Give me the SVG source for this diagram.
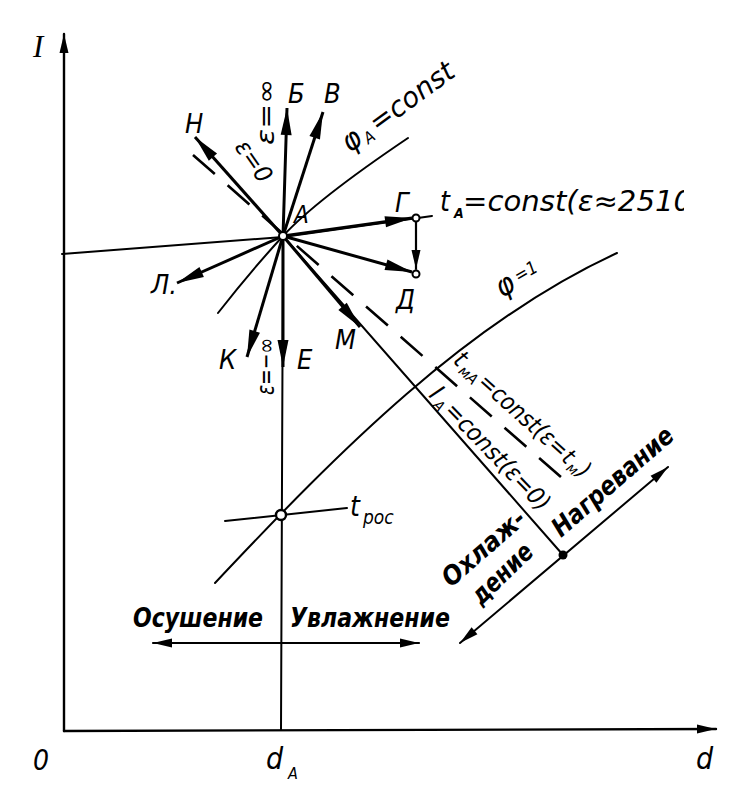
<svg xmlns="http://www.w3.org/2000/svg" width="756" height="788" viewBox="0 0 756 788">
<style>
.t{font-family:"DejaVu Sans Condensed","Liberation Sans Narrow","DejaVu Sans",sans-serif;font-style:italic;fill:#000}
.b{font-weight:bold}
.ln{fill:none;stroke:#000;stroke-width:2;stroke-linecap:round}
.ar{fill:none;stroke:#000;stroke-width:3;marker-end:url(#ah)}
</style>
<defs>
<marker id="ah" viewBox="-28 -6 30 12" refX="0" refY="0" markerWidth="30" markerHeight="12" markerUnits="userSpaceOnUse" orient="auto"><path d="M0,0 L-27,-5.5 L-27,5.5 z" fill="#000"/></marker>
<marker id="ahs" viewBox="-20 -5 22 10" refX="0" refY="0" markerWidth="22" markerHeight="10" markerUnits="userSpaceOnUse" orient="auto-start-reverse"><path d="M0,0 L-19,-4.5 L-19,4.5 z" fill="#000"/></marker>
<clipPath id="cut"><rect x="0" y="0" width="684" height="788"/></clipPath>
</defs>
<rect width="756" height="788" fill="#fff"/>

<g id="axes">
<path d="M64,731 L64,34" class="ln" style="stroke-width:2.4" marker-end="url(#ahs)"/>
<path d="M64,731 L716,729" class="ln" style="stroke-width:2.4" marker-end="url(#ahs)"/>
<text x="33" y="57" style="font-family:'Liberation Serif',serif;font-style:italic;font-size:31px">I</text>
<text class="t" x="33" y="770" style="font-size:28px">0</text>
<text class="t" x="266" y="769" style="font-size:30px">d</text>
<text class="t" x="288" y="779" style="font-size:16px">A</text>
<text class="t" x="696" y="769" style="font-size:30px">d</text>
</g>

<g id="connectors">
<path class="ln" d="M62,254 L283,237 L432,216"/>
<path class="ln" d="M218,313 Q250,272 283,236 T408,138"/>
<path class="ln" d="M283,236 L281,730"/>
<path class="ln" d="M283,236 L563,555"/>
<path class="ln" d="M193,155 L562,478" style="stroke-width:2.6;stroke-dasharray:29 17;stroke-linecap:butt"/>
<path class="ln" d="M215,583 C340,450 467,322 617,253"/>
<path class="ln" d="M225,521 L347,508"/>
<path class="ln" d="M460,643 L668,467" marker-start="url(#ahs)" marker-end="url(#ahs)"/>
<path class="ln" d="M153,643 L419,643" style="stroke-width:2.2" marker-start="url(#ahs)" marker-end="url(#ahs)"/>
<path class="ar" d="M283,236 L287,108"/>
<path class="ar" d="M283,236 L323,112"/>
<path class="ar" d="M283,236 L195,137"/>
<path class="ar" d="M283,236 L412,218"/>
<path class="ar" d="M283,236 L412,272"/>
<path class="ar" d="M283,236 L177,283"/>
<path class="ar" d="M283,236 L247,357"/>
<path class="ar" d="M283,236 L283,367"/>
<path class="ar" d="M283,236 L360,327"/>
<path class="ln" d="M416,222 L416,269" style="stroke-width:2.2" marker-end="url(#ahs)"/>
</g>

<g id="node-A">
<circle cx="283" cy="236" r="4" fill="#fff" stroke="#000" stroke-width="2"/>
<text class="t" x="294" y="223" style="font-size:24px">A</text>
</g>
<g id="node-G">
<circle cx="416" cy="218" r="3.5" fill="#fff" stroke="#000" stroke-width="2"/>
<text class="t" x="395" y="212" style="font-size:27px">Г</text>
</g>
<g id="node-D">
<circle cx="416" cy="274" r="3.5" fill="#fff" stroke="#000" stroke-width="2"/>
<text class="t" x="396" y="309" style="font-size:27px">Д</text>
</g>
<g id="node-tros">
<circle cx="281" cy="515" r="5" fill="#fff" stroke="#000" stroke-width="2.4"/>
<text class="t" x="350" y="516" style="font-size:28px">t</text>
<text class="t" x="363" y="524" style="font-size:19px">рос</text>
</g>
<g id="node-point">
<circle cx="563" cy="555" r="4.5" fill="#000"/>
</g>

<g id="labels">
<text class="t" x="185" y="133" style="font-size:27px">Н</text>
<text class="t" x="288" y="103" style="font-size:27px">Б</text>
<text class="t" x="324" y="103" style="font-size:27px">В</text>
<text class="t" x="151" y="294" style="font-size:27px">Л.</text>
<text class="t" x="219" y="369" style="font-size:27px">К</text>
<text class="t" x="297" y="369" style="font-size:27px">Е</text>
<text class="t" x="335" y="349" style="font-size:27px">М</text>
<text class="t" transform="translate(274,145) rotate(-90)" style="font-size:24px" textLength="66" lengthAdjust="spacingAndGlyphs">ε=∞</text>
<text class="t" transform="translate(274,395) rotate(-90)" style="font-size:24px" textLength="57" lengthAdjust="spacingAndGlyphs">ε=−∞</text>
<text class="t" transform="translate(234,147) rotate(55)" style="font-size:24px" textLength="46" lengthAdjust="spacingAndGlyphs">ε=0</text>

<g transform="translate(350,153) rotate(-36)">
<text class="t" x="0" y="0" style="font-size:30px">φ</text>
<text class="t" x="20" y="4" style="font-size:16px">A</text>
<text class="t" x="34" y="0" style="font-size:28px" textLength="98" lengthAdjust="spacingAndGlyphs">=const</text>
</g>

<g transform="translate(502,298) rotate(-30)">
<text class="t" x="0" y="0" style="font-size:30px">φ</text>
<text class="t" x="22" y="-5" style="font-size:18px">=1</text>
</g>

<g clip-path="url(#cut)">
<text class="t" x="440" y="211" style="font-size:28px">t</text>
<text class="t b" x="454" y="218" style="font-size:14px">A</text>
<text class="t" x="463" y="211" style="font-size:28px" textLength="229" lengthAdjust="spacingAndGlyphs">=const(ε≈2510</text>
</g>

<g transform="translate(452,362) rotate(42)">
<text class="t" x="0" y="0" style="font-size:25px">t</text>
<text class="t" x="11" y="4" style="font-size:15px" textLength="20" lengthAdjust="spacingAndGlyphs">мА</text>
<text class="t" x="33" y="0" style="font-size:24px" textLength="112" lengthAdjust="spacingAndGlyphs">=const(ε=</text>
<text class="t" x="146" y="0" style="font-size:23px">t</text>
<text class="t" x="156" y="4" style="font-size:15px">м</text>
<text class="t" x="167" y="0" style="font-size:24px">)</text>
</g>

<g transform="translate(428,396) rotate(46)">
<text class="t" x="0" y="0" style="font-size:25px">I</text>
<text class="t" x="10" y="4" style="font-size:15px">A</text>
<text class="t" x="22" y="0" style="font-size:24px" textLength="140" lengthAdjust="spacingAndGlyphs">=const(ε=0)</text>
</g>

<text class="t b" transform="translate(451,588) rotate(-41)" style="font-size:26px" textLength="102" lengthAdjust="spacingAndGlyphs">Охлаж-</text>
<text class="t b" transform="translate(481,606) rotate(-44)" style="font-size:26px" textLength="75" lengthAdjust="spacingAndGlyphs">дение</text>
<text class="t b" transform="translate(561,538) rotate(-41)" style="font-size:26px" textLength="152" lengthAdjust="spacingAndGlyphs">Нагревание</text>
<text class="t b" x="133" y="627" style="font-size:27px" textLength="130" lengthAdjust="spacingAndGlyphs">Осушение</text>
<text class="t b" x="290" y="627" style="font-size:27px" textLength="160" lengthAdjust="spacingAndGlyphs">Увлажнение</text>
</g>
</svg>
